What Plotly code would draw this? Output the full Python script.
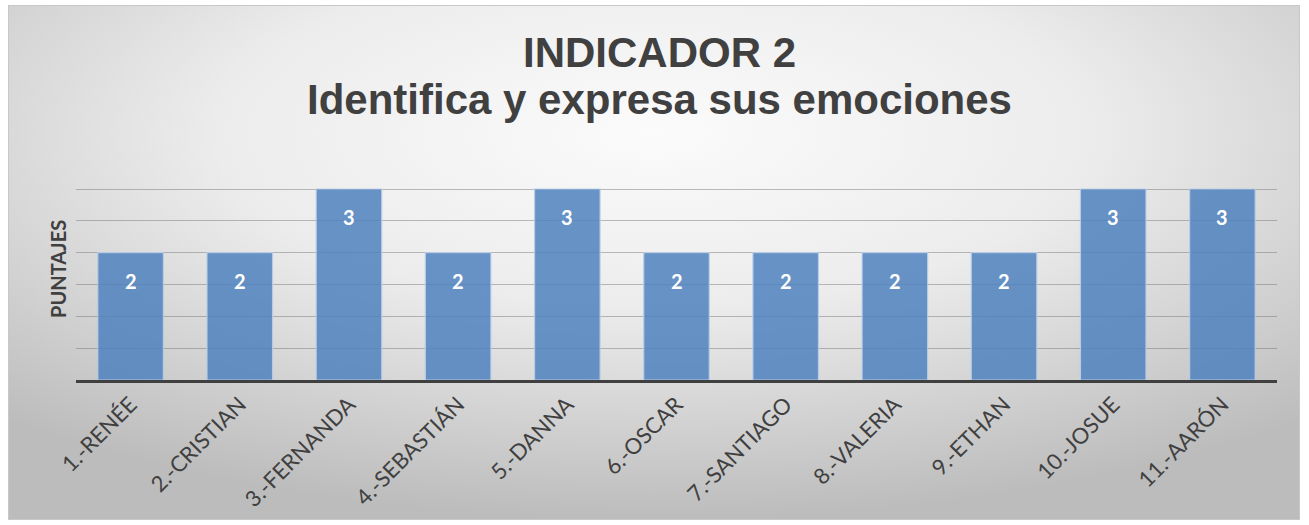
import base64
import plotly.graph_objects as go

categories = ["1.-RENÉE", "2.-CRISTIAN", "3.-FERNANDA", "4.-SEBASTIÁN", "5.-DANNA",
              "6.-OSCAR", "7.-SANTIAGO", "8.-VALERIA", "9.-ETHAN", "10.-JOSUE", "11.-AARÓN"]
puntajes = [2, 2, 3, 2, 3, 2, 2, 2, 2, 3, 3]
title_line1 = "INDICADOR 2"
title_line2 = "Identifica y expresa sus emociones"
y_title = "PUNTAJES"

W, H = 1309, 525
L, R, T, B = 76, 32, 187, 145
pw, ph = W - L - R, H - T - B
ytop = 3 * ph / 191.0  # so that value 3 lands at pixel row 189

svg = (
    '<svg xmlns="http://www.w3.org/2000/svg" width="1292" height="515" viewBox="0 0 1292 515" preserveAspectRatio="none">'
    '<defs><radialGradient id="g" cx="50%" cy="25%" r="75%" gradientUnits="objectBoundingBox">'
    '<stop offset="0" stop-color="#fbfbfb"/><stop offset="0.45" stop-color="#ececec"/>'
    '<stop offset="1" stop-color="#bcbcbc"/></radialGradient></defs>'
    '<rect x="0" y="0" width="1292" height="515" fill="url(#g)" stroke="#c8c8c8" stroke-width="2"/></svg>'
)
src = "data:image/svg+xml;base64," + base64.b64encode(svg.encode()).decode()

fig = go.Figure()
fig.add_trace(go.Bar(
    x=categories, y=puntajes,
    marker=dict(color="rgba(79,129,189,0.85)", line=dict(color="rgba(185,205,232,0.9)", width=1.2)),
    hoverinfo="x+y",
))

for c, v in zip(categories, puntajes):
    fig.add_annotation(x=c, y=v, text=f"<b>{v}</b>", showarrow=False, yshift=-28,
                       font=dict(family="Lato", size=20, color="white"))

def py(pix):
    return (H - B - pix) / ph

def px(pix):
    return (pix - L) / pw

fig.add_annotation(xref="paper", yref="paper", x=px(659), y=py(52),
                   text=f"<b>{title_line1}</b>", showarrow=False,
                   font=dict(family="Liberation Sans", size=42, color="#404040"),
                   xanchor="center", yanchor="middle")
fig.add_annotation(xref="paper", yref="paper", x=px(659), y=py(100),
                   text=f"<b>{title_line2}</b>", showarrow=False,
                   font=dict(family="Liberation Sans", size=42, color="#404040"),
                   xanchor="center", yanchor="middle")
fig.add_annotation(xref="paper", yref="paper", x=px(58), y=py(269),
                   text=f"<b>{y_title}</b>", showarrow=False, textangle=-90,
                   font=dict(family="Lato", size=20, color="#404040"),
                   xanchor="center", yanchor="middle")

fig.add_layout_image(dict(source=src, xref="paper", yref="paper",
                          x=px(8), y=py(5),
                          sizex=1292 / pw, sizey=515 / ph,
                          xanchor="left", yanchor="top", sizing="stretch", layer="below"))

fig.update_layout(
    width=W, height=H,
    margin=dict(l=L, r=R, t=T, b=B, pad=0, autoexpand=False),
    paper_bgcolor="white", plot_bgcolor="rgba(0,0,0,0)",
    bargap=0.4, showlegend=False,
    xaxis=dict(tickangle=-45, tickfont=dict(family="Lato", size=22, color="#404040"),
               showline=True, linecolor="#404040", linewidth=3, ticks="", showgrid=False,
               automargin=False),
    yaxis=dict(range=[0, ytop], tickvals=[0.5, 1, 1.5, 2, 2.5, 3], showticklabels=False, showgrid=True,
               gridcolor="rgba(110,110,110,0.45)", gridwidth=1, zeroline=False, ticks="",
               automargin=False),
)

fig.write_html("out.html", config={"displayModeBar": False},
               post_script="document.body.style.margin='0';document.body.style.overflow='hidden';")
